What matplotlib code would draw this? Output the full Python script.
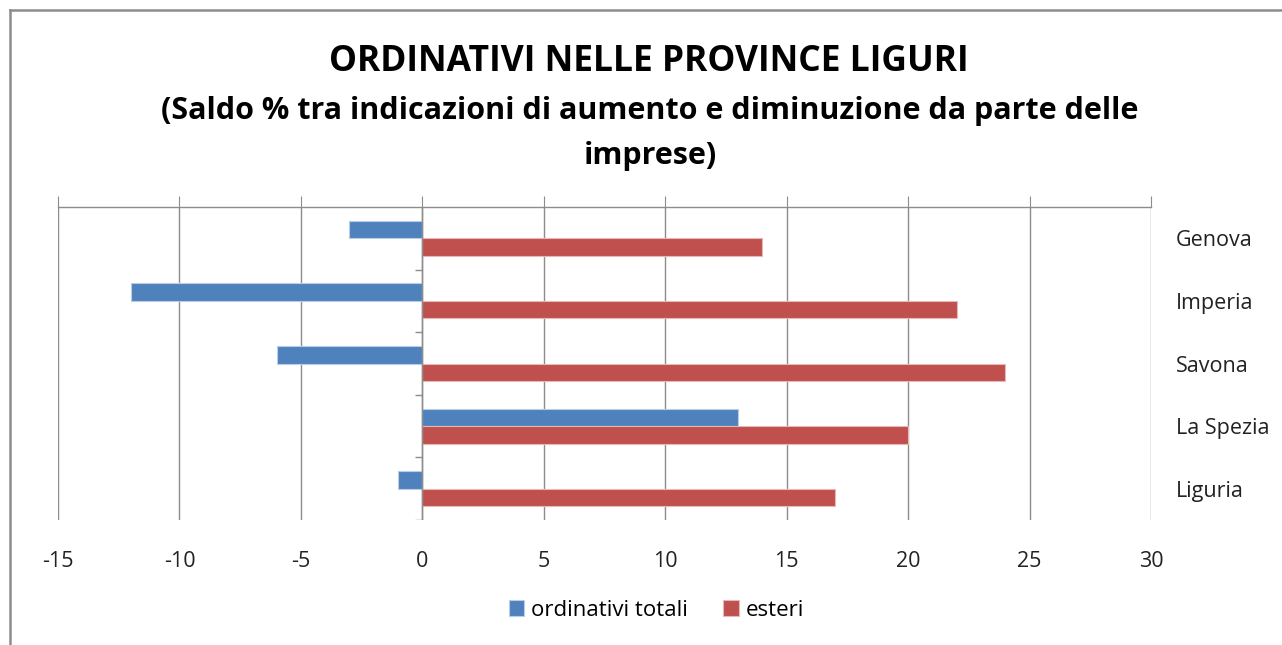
import matplotlib
matplotlib.use("Agg")
import matplotlib.pyplot as plt
import numpy as np
from matplotlib.lines import Line2D

categories = ["Genova", "Imperia", "Savona", "La Spezia", "Liguria"]
ordinativi_totali = [-3, -12, -6, 13, -1]
esteri = [14, 22, 24, 20, 17]
series_names = ["ordinativi totali", "esteri"]
xticks = [-15, -10, -5, 0, 5, 10, 15, 20, 25, 30]

plt.rcParams['font.family'] = ['Open Sans', 'DejaVu Sans']

fig = plt.figure(figsize=(12.82, 6.45), dpi=100)
ax = fig.add_axes([58/1282, 1-520/645, (1151-58)/1282, (520-207)/645])

y = np.arange(len(categories))
h = 0.28
blue = "#4F81BD"
red = "#C0504D"
ax.barh(y - h/2, ordinativi_totali, height=h, color=blue, edgecolor="#B9CDE5", linewidth=0.8, label=series_names[0], zorder=3)
ax.barh(y + h/2, esteri, height=h, color=red, edgecolor="#E6B9B8", linewidth=0.8, label=series_names[1], zorder=3)

ax.set_xlim(-15, 30)
ax.set_ylim(len(categories) - 0.5, -0.5)
ax.set_xticks(xticks)
ax.set_xticklabels([str(v) for v in xticks], fontsize=15.5, color="#222222")
ax.xaxis.grid(True, color="#8C8C8C", linewidth=1.0, zorder=0)
ax.tick_params(axis='x', top=True, bottom=False, labeltop=False, labelbottom=True,
               direction='out', length=8, color="#8C8C8C", pad=14)
for s in ["left", "right", "bottom"]:
    ax.spines[s].set_visible(False)
ax.spines["top"].set_color("#8C8C8C")
ax.spines["top"].set_linewidth(1.0)

# category labels on the right
ax.yaxis.tick_right()
ax.set_yticks(y)
ax.set_yticklabels(categories, fontsize=15.5, color="#222222")
ax.tick_params(axis='y', length=0, pad=18)
for lab in ax.get_yticklabels():
    lab.set_horizontalalignment('left')

# category boundary ticks on the zero axis
bounds = np.arange(len(categories)) + 0.5
ax.hlines(bounds, -0.3, 0, color="#8C8C8C", linewidth=1.0, zorder=4)
ax.axvline(0, color="#8C8C8C", linewidth=1.0, zorder=4)

fig.text(0.506, 1-62/645, "ORDINATIVI NELLE PROVINCE LIGURI", ha='center', va='center',
         fontsize=25.5, fontweight='bold', color="#000000")
fig.text(0.507, 1-111/645, "(Saldo % tra indicazioni di aumento e diminuzione da parte delle", ha='center', va='center',
         fontsize=22, fontweight='bold', color="#000000")
fig.text(0.507, 1-156/645, "imprese)", ha='center', va='center',
         fontsize=22, fontweight='bold', color="#000000")

fig.legend(loc='center', bbox_to_anchor=(0.512, 1-610/645), ncol=2, frameon=False,
           fontsize=16, handlelength=0.7, handleheight=0.7, columnspacing=1.6, handletextpad=0.3)

# chart-area frame: only left and top edges visible
x0 = 10/1282
y1 = 1 - 10/645
fig.add_artist(Line2D([x0, x0], [0, y1], transform=fig.transFigure, color="#8C8C8C", linewidth=1.8))
fig.add_artist(Line2D([x0, 1], [y1, y1], transform=fig.transFigure, color="#8C8C8C", linewidth=1.8))

fig.savefig("out.png", dpi=100, facecolor="white")
